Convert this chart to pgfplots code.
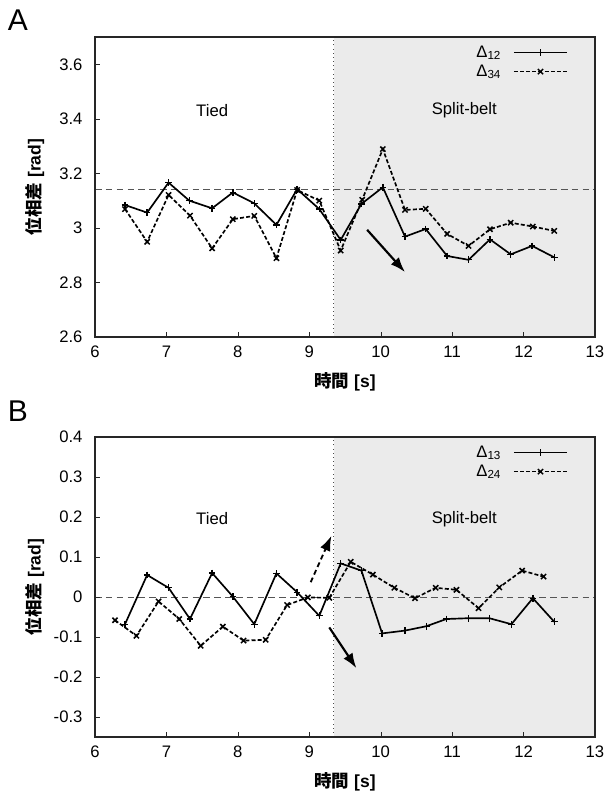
\documentclass[border=0pt]{standalone}
\usepackage{fontspec}
\setmainfont{Liberation Sans}
\newfontfamily\jp{Noto Sans CJK JP}
\usepackage{pgfplots}
\pgfplotsset{compat=1.18}
\usetikzlibrary{arrows.meta}

\definecolor{shade}{HTML}{EBEBEB}
\definecolor{refline}{HTML}{555555}

\pgfplotsset{
  panel/.style={
    scale only axis,
    width=300pt, height=180pt,
    xmin=6, xmax=13,
    xtick={6,7,...,13},
    tick align=inside,
    xtick pos=left, ytick pos=left,
    major tick length=3pt,
    axis line style={line width=0.7pt, black!85},
    tick style={black!85},
    axis on top,
    clip=true,
    /pgf/number format/assume math mode=true,
    ticklabel style={font=\fontsize{10}{12}\selectfont},
    yticklabel style={xshift=-4pt},
    xticklabel style={yshift=-2pt},
    every axis y label/.style={at={(axis description cs:0,0.5)}, xshift=-36pt, rotate=90, anchor=center},
    every axis x label/.style={at={(axis description cs:0.5,0)}, yshift=-27pt, anchor=center},
    label style={font=\fontsize{10.5}{12}\selectfont\bfseries},
    ylabel={{\jp\bfseries 位相差} [rad]},
    xlabel={{\jp\bfseries 時間} [s]},
    legend style={at={(axis description cs:1,1)}, anchor=north east, xshift=-13pt, yshift=-1pt,
      draw=none, fill=none, font=\fontsize{10}{11}\selectfont,
      row sep=-1pt, column sep=5pt},
    legend cell align=right,
    legend plot pos=right,
    legend image code/.code={\draw[mark repeat=2,mark phase=2,#1] plot coordinates {(0pt,0pt) (16pt,0pt) (32pt,0pt)};},
  },
  s1/.style={black, line width=1pt, mark=+, mark size=2pt, mark options={solid, line width=0.8pt}},
  s2/.style={black, line width=1pt, dash pattern=on 2.4pt off 1.3pt, mark=x, mark size=2.2pt, mark options={solid, line width=0.9pt}},
}

\begin{document}
\begin{tikzpicture}[x=1pt,y=1pt]
\useasboundingbox (0,0) rectangle (364.8,479.4);

% panel A
\begin{axis}[panel, at={(57pt,277.2pt)}, anchor=south west,
  ymin=2.6, ymax=3.7, ytick={2.6,2.8,3.0,3.2,3.4,3.6}]
\addplot[fill=shade, draw=none, forget plot] coordinates {(9.34,2.6) (9.34,3.7) (13,3.7) (13,2.6)} -- cycle;
\addplot[refline, line width=0.5pt, dash pattern=on 4pt off 2.5pt, forget plot] coordinates {(6,3.14159) (13,3.14159)};
\addplot[black!70, line width=0.5pt, dotted, forget plot] coordinates {(9.34,2.6) (9.34,3.7)};
\addplot[s1] coordinates {
  (6.42,3.084) (6.73,3.056) (7.03,3.166) (7.32,3.100) (7.64,3.072) (7.93,3.130) (8.23,3.090)
  (8.54,3.011) (8.83,3.142) (9.14,3.069) (9.44,2.956) (9.73,3.088) (10.03,3.149) (10.34,2.968)
  (10.63,2.996) (10.93,2.897) (11.23,2.883) (11.53,2.958) (11.82,2.903) (12.12,2.934) (12.43,2.892)
};
\addlegendentry{Δ\textsubscript{12}}
\addplot[s2] coordinates {
  (6.42,3.069) (6.73,2.949) (7.03,3.121) (7.33,3.045) (7.64,2.925) (7.93,3.032) (8.23,3.044)
  (8.54,2.889) (8.83,3.139) (9.14,3.100) (9.44,2.917) (9.74,3.103) (10.03,3.289) (10.34,3.066)
  (10.63,3.070) (10.93,2.978) (11.23,2.934) (11.53,2.995) (11.82,3.019) (12.13,3.005) (12.43,2.989)
};
\addlegendentry{Δ\textsubscript{34}}
\draw[line width=1.3pt, -{Latex[length=9pt,width=6.5pt]}] (axis cs:9.81,2.993) -- (axis cs:10.34,2.838);
\node[font=\fontsize{10}{12}\selectfont] at (axis cs:7.64,3.43) {Tied};
\node[font=\fontsize{10}{12}\selectfont] at (axis cs:11.17,3.43) {Split-belt};
\end{axis}

% panel B
\begin{axis}[panel, at={(57pt,37.2pt)}, anchor=south west,
  ymin=-0.35, ymax=0.4, ytick={-0.3,-0.2,-0.1,0,0.1,0.2,0.3,0.4}]
\addplot[fill=shade, draw=none, forget plot] coordinates {(9.34,-0.35) (9.34,0.4) (13,0.4) (13,-0.35)} -- cycle;
\addplot[refline, line width=0.5pt, dash pattern=on 4pt off 2.5pt, forget plot] coordinates {(6,0) (13,0)};
\addplot[black!70, line width=0.5pt, dotted, forget plot] coordinates {(9.34,-0.35) (9.34,0.4)};
\addplot[s1] coordinates {
  (6.42,-0.068) (6.73,0.055) (7.03,0.023) (7.33,-0.055) (7.64,0.060) (7.93,0.001) (8.23,-0.068)
  (8.54,0.059) (8.83,0.012) (9.14,-0.047) (9.44,0.084) (9.73,0.066) (10.02,-0.091) (10.34,-0.084)
  (10.64,-0.073) (10.92,-0.055) (11.23,-0.053) (11.52,-0.053) (11.83,-0.068) (12.13,-0.003) (12.43,-0.062)
};
\addlegendentry{Δ\textsubscript{13}}
\addplot[s2] coordinates {
  (6.28,-0.058) (6.58,-0.097) (6.89,-0.011) (7.18,-0.055) (7.48,-0.122) (7.79,-0.074) (8.08,-0.109)
  (8.39,-0.107) (8.69,-0.020) (8.98,-0.001) (9.28,-0.002) (9.58,0.088) (9.89,0.056) (10.19,0.023)
  (10.48,-0.003) (10.77,0.023) (11.06,0.018) (11.37,-0.028) (11.66,0.024) (11.98,0.066) (12.28,0.051)
};
\addlegendentry{Δ\textsubscript{24}}
\draw[line width=1.1pt, dash pattern=on 3pt off 2pt, -{Latex[length=9pt,width=6.5pt]}] (axis cs:9.02,0.037) -- (axis cs:9.31,0.153);
\draw[line width=1.3pt, -{Latex[length=9pt,width=6.5pt]}] (axis cs:9.28,-0.076) -- (axis cs:9.66,-0.178);
\node[font=\fontsize{10}{12}\selectfont] at (axis cs:7.64,0.195) {Tied};
\node[font=\fontsize{10}{12}\selectfont] at (axis cs:11.17,0.195) {Split-belt};
\end{axis}

\node[font=\fontsize{18}{20}\selectfont] at (10.8,467.4) {A};
\node[font=\fontsize{18}{20}\selectfont] at (10.8,232.8) {B};
\end{tikzpicture}
\end{document}
